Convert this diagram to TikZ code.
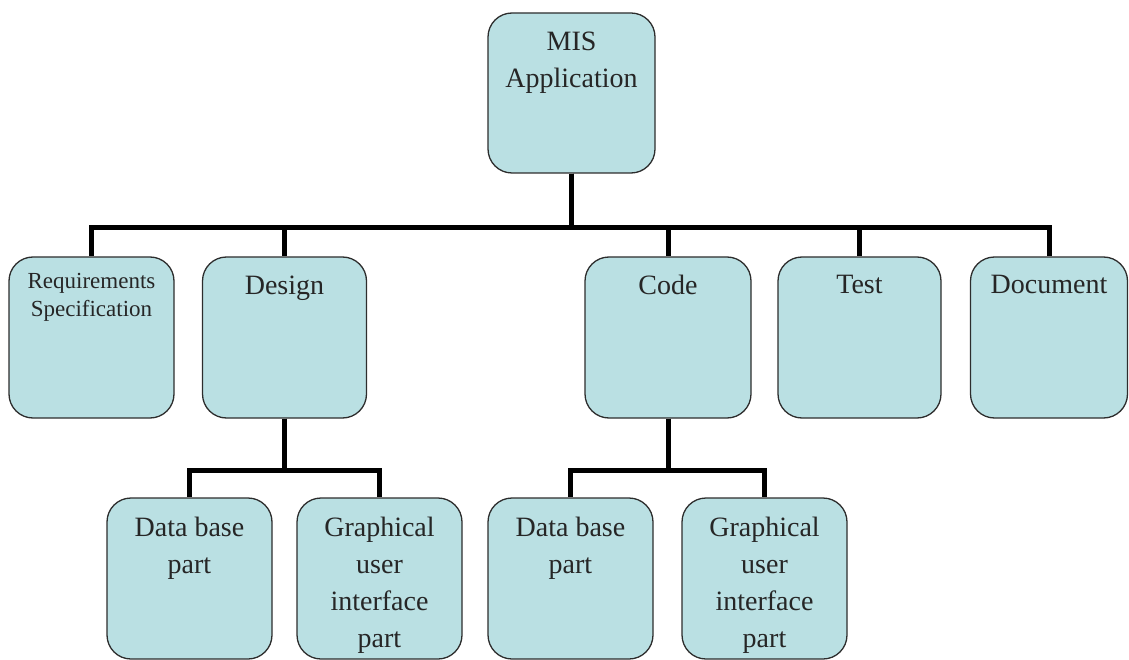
\documentclass[tikz,border=0pt]{standalone}
\usepackage{fontspec}
\setmainfont{Liberation Serif}
\definecolor{boxfill}{RGB}{186,224,227}
\definecolor{boxline}{RGB}{45,45,45}
\begin{document}
\begin{tikzpicture}[x=1pt,y=-1pt,
  wbox/.style={draw=boxline, fill=boxfill, line width=1.3pt, rounded corners=24pt,
    minimum height=161pt, inner sep=0pt},
  lbl/.style={anchor=north, inner sep=0pt, align=center, text=black!85,
    font=\fontsize{28}{37}\selectfont},
  smalllbl/.style={lbl, font=\fontsize{23}{28}\selectfont},
  conn/.style={line width=5pt, line join=miter, draw=black}]
\useasboundingbox (0,0) rectangle (1129,660);

% boxes
\node[wbox, minimum width=167pt, minimum height=160pt] (mis) at (571.5,93) {};
\node[wbox, minimum width=165pt] (req) at (91.5,337.5) {};
\node[wbox, minimum width=164pt] (design) at (284.5,337.5) {};
\node[wbox, minimum width=166pt] (code) at (668,337.5) {};
\node[wbox, minimum width=163pt] (test) at (859.5,337.5) {};
\node[wbox, minimum width=157pt] (doc) at (1049,337.5) {};
\node[wbox, minimum width=165pt] (db1) at (189.5,578.5) {};
\node[wbox, minimum width=165pt] (gui1) at (379.5,578.5) {};
\node[wbox, minimum width=165pt] (db2) at (570.5,578.5) {};
\node[wbox, minimum width=165pt] (gui2) at (764.5,578.5) {};

% labels
\node[lbl] (tmis) at ([yshift=-19pt]mis.north) {MIS\\Application};
\node[smalllbl] (treq) at ([yshift=-17pt]req.north) {Requirements\\Specification};
\node[lbl] (tdesign) at ([yshift=-19pt]design.north) {Design};
\node[lbl] (tcode) at ([yshift=-19pt]code.north) {Code};
\node[lbl] (ttest) at ([yshift=-19pt]test.north) {Test};
\node[lbl] (tdoc) at ([yshift=-19pt]doc.north) {Document};
\node[lbl] (tdb1) at ([yshift=-20pt]db1.north) {Data base\\part};
\node[lbl] (tgui1) at ([yshift=-20pt]gui1.north) {Graphical\\user\\interface\\part};
\node[lbl] (tdb2) at ([yshift=-20pt]db2.north) {Data base\\part};
\node[lbl] (tgui2) at ([yshift=-20pt]gui2.north) {Graphical\\user\\interface\\part};

% bar levels
\coordinate (bar) at (0,228);
\coordinate (sbar) at (0,470);

% connectors
\foreach \c in {req,design,code,test,doc}
  \draw[conn] (mis.south) |- (\c.north |- bar) -- (\c.north);
\foreach \c in {db1,gui1}
  \draw[conn] (design.south) |- (\c.north |- sbar) -- (\c.north);
\foreach \c in {db2,gui2}
  \draw[conn] (code.south) |- (\c.north |- sbar) -- (\c.north);
\end{tikzpicture}
\end{document}
